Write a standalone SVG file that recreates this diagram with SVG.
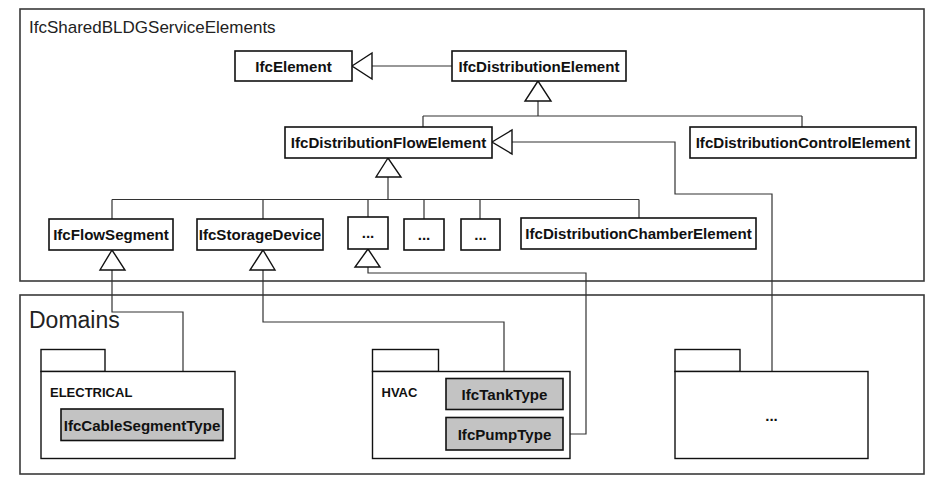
<svg xmlns="http://www.w3.org/2000/svg" width="929" height="484" viewBox="0 0 929 484">
<style>
.frame{fill:#fff;stroke:#3a3a3a;stroke-width:1.6}
.box{fill:#fff;stroke:#111;stroke-width:1.6}
.gbox{fill:#c3c3c3;stroke:#111;stroke-width:1.6}
.pkg{fill:#fff;stroke:#111;stroke-width:1.4}
.t{font-family:"Liberation Sans",Arial,sans-serif;font-weight:bold;font-size:15.1px;fill:#111;text-anchor:middle}
.ft{font-family:"Liberation Sans",Arial,sans-serif;fill:#222}
.pt{font-family:"Liberation Sans",Arial,sans-serif;font-weight:bold;font-size:13px;fill:#111}
.c{fill:none;stroke:#333;stroke-width:1.2}
.tri{fill:#fff;stroke:#111;stroke-width:1.4;stroke-linejoin:miter}
</style>
<rect width="929" height="484" fill="#fff"/>
<g id="frame-shared">
<rect class="frame" x="20" y="9" width="904" height="272"/>
<text class="ft" x="29" y="33" font-size="17">IfcSharedBLDGServiceElements</text>
</g>
<g id="frame-domains">
<rect class="frame" x="20" y="295" width="904" height="179"/>
<text class="ft" x="29" y="328" font-size="23">Domains</text>
</g>
<g id="connectors">
<path class="c" d="M452,66 H372"/>
<path class="c" d="M538,101 V116 M423,116 H802 M423,116 V127 M802,116 V127"/>
<path class="c" d="M512,142 H675 V194 H772 V372"/>
<path class="c" d="M388,177 V199.5" stroke-width="2"/>
<path class="c" d="M112,199.5 H639 M112,199.5 V219 M263,199.5 V219 M368,199.5 V217 M424,199.5 V219 M480,199.5 V219 M639,199.5 V218"/>
<path class="c" d="M112,270 V312 H183 V409"/>
<path class="c" d="M263,270 V322 H504 V378"/>
<path class="c" d="M368,267 V273 H586 V434 H563"/>
<polygon class="tri" points="352,66 372,53 372,79"/>
<polygon class="tri" points="538,81 525,101 551,101"/>
<polygon class="tri" points="492,142 512,130 512,154"/>
<polygon class="tri" points="388,158 376,177 401,177"/>
<polygon class="tri" points="112,250 100,270 125,270"/>
<polygon class="tri" points="263,250 250,270 275,270"/>
<polygon class="tri" points="368,249 355,267 380,267"/>
</g>
<g id="IfcElement"><rect class="box" x="235" y="51" width="117" height="30"/><text class="t" x="293.5" y="71.5">IfcElement</text></g>
<g id="IfcDistributionElement"><rect class="box" x="452" y="51" width="174" height="30"/><text class="t" x="539" y="71.5">IfcDistributionElement</text></g>
<g id="IfcDistributionFlowElement"><rect class="box" x="285" y="127" width="207" height="31"/><text class="t" x="388.5" y="148">IfcDistributionFlowElement</text></g>
<g id="IfcDistributionControlElement"><rect class="box" x="690" y="127" width="226" height="31"/><text class="t" x="803" y="148">IfcDistributionControlElement</text></g>
<g id="IfcFlowSegment"><rect class="box" x="49" y="219" width="124" height="31"/><text class="t" x="111" y="240">IfcFlowSegment</text></g>
<g id="IfcStorageDevice"><rect class="box" x="197" y="219" width="126" height="31"/><text class="t" x="260" y="240">IfcStorageDevice</text></g>
<g id="etc1"><rect class="box" x="348" y="217" width="40" height="32"/><text class="t" x="368" y="238">...</text></g>
<g id="etc2"><rect class="box" x="404" y="219" width="40" height="31"/><text class="t" x="424" y="240">...</text></g>
<g id="etc3"><rect class="box" x="461" y="219" width="39" height="31"/><text class="t" x="480.5" y="240">...</text></g>
<g id="IfcDistributionChamberElement"><rect class="box" x="521" y="218" width="235" height="31"/><text class="t" x="638.5" y="239">IfcDistributionChamberElement</text></g>
<g id="pkg-electrical">
<rect class="pkg" x="41" y="349.5" width="64" height="22"/>
<rect class="pkg" x="41" y="371.5" width="194" height="87"/>
<text class="pt" x="50" y="397">ELECTRICAL</text>
</g>
<g id="IfcCableSegmentType"><rect class="gbox" x="61" y="409" width="162" height="31.5"/><text class="t" x="142" y="430.5">IfcCableSegmentType</text></g>
<g id="pkg-hvac">
<rect class="pkg" x="372.5" y="349.5" width="66" height="22"/>
<rect class="pkg" x="372.5" y="371.5" width="197.5" height="87"/>
<text class="pt" x="381.5" y="397" font-size="13.5">HVAC</text>
</g>
<g id="IfcTankType"><rect class="gbox" x="446" y="378.5" width="117" height="31"/><text class="t" x="504.5" y="399.5">IfcTankType</text></g>
<g id="IfcPumpType"><rect class="gbox" x="446" y="417.5" width="117" height="32.5"/><text class="t" x="504.5" y="439.5">IfcPumpType</text></g>
<g id="pkg-other">
<rect class="pkg" x="675" y="349.5" width="65" height="22"/>
<rect class="pkg" x="675" y="371.5" width="193" height="87"/>
<text class="t" x="771.5" y="421" font-size="13">...</text>
</g>
</svg>
